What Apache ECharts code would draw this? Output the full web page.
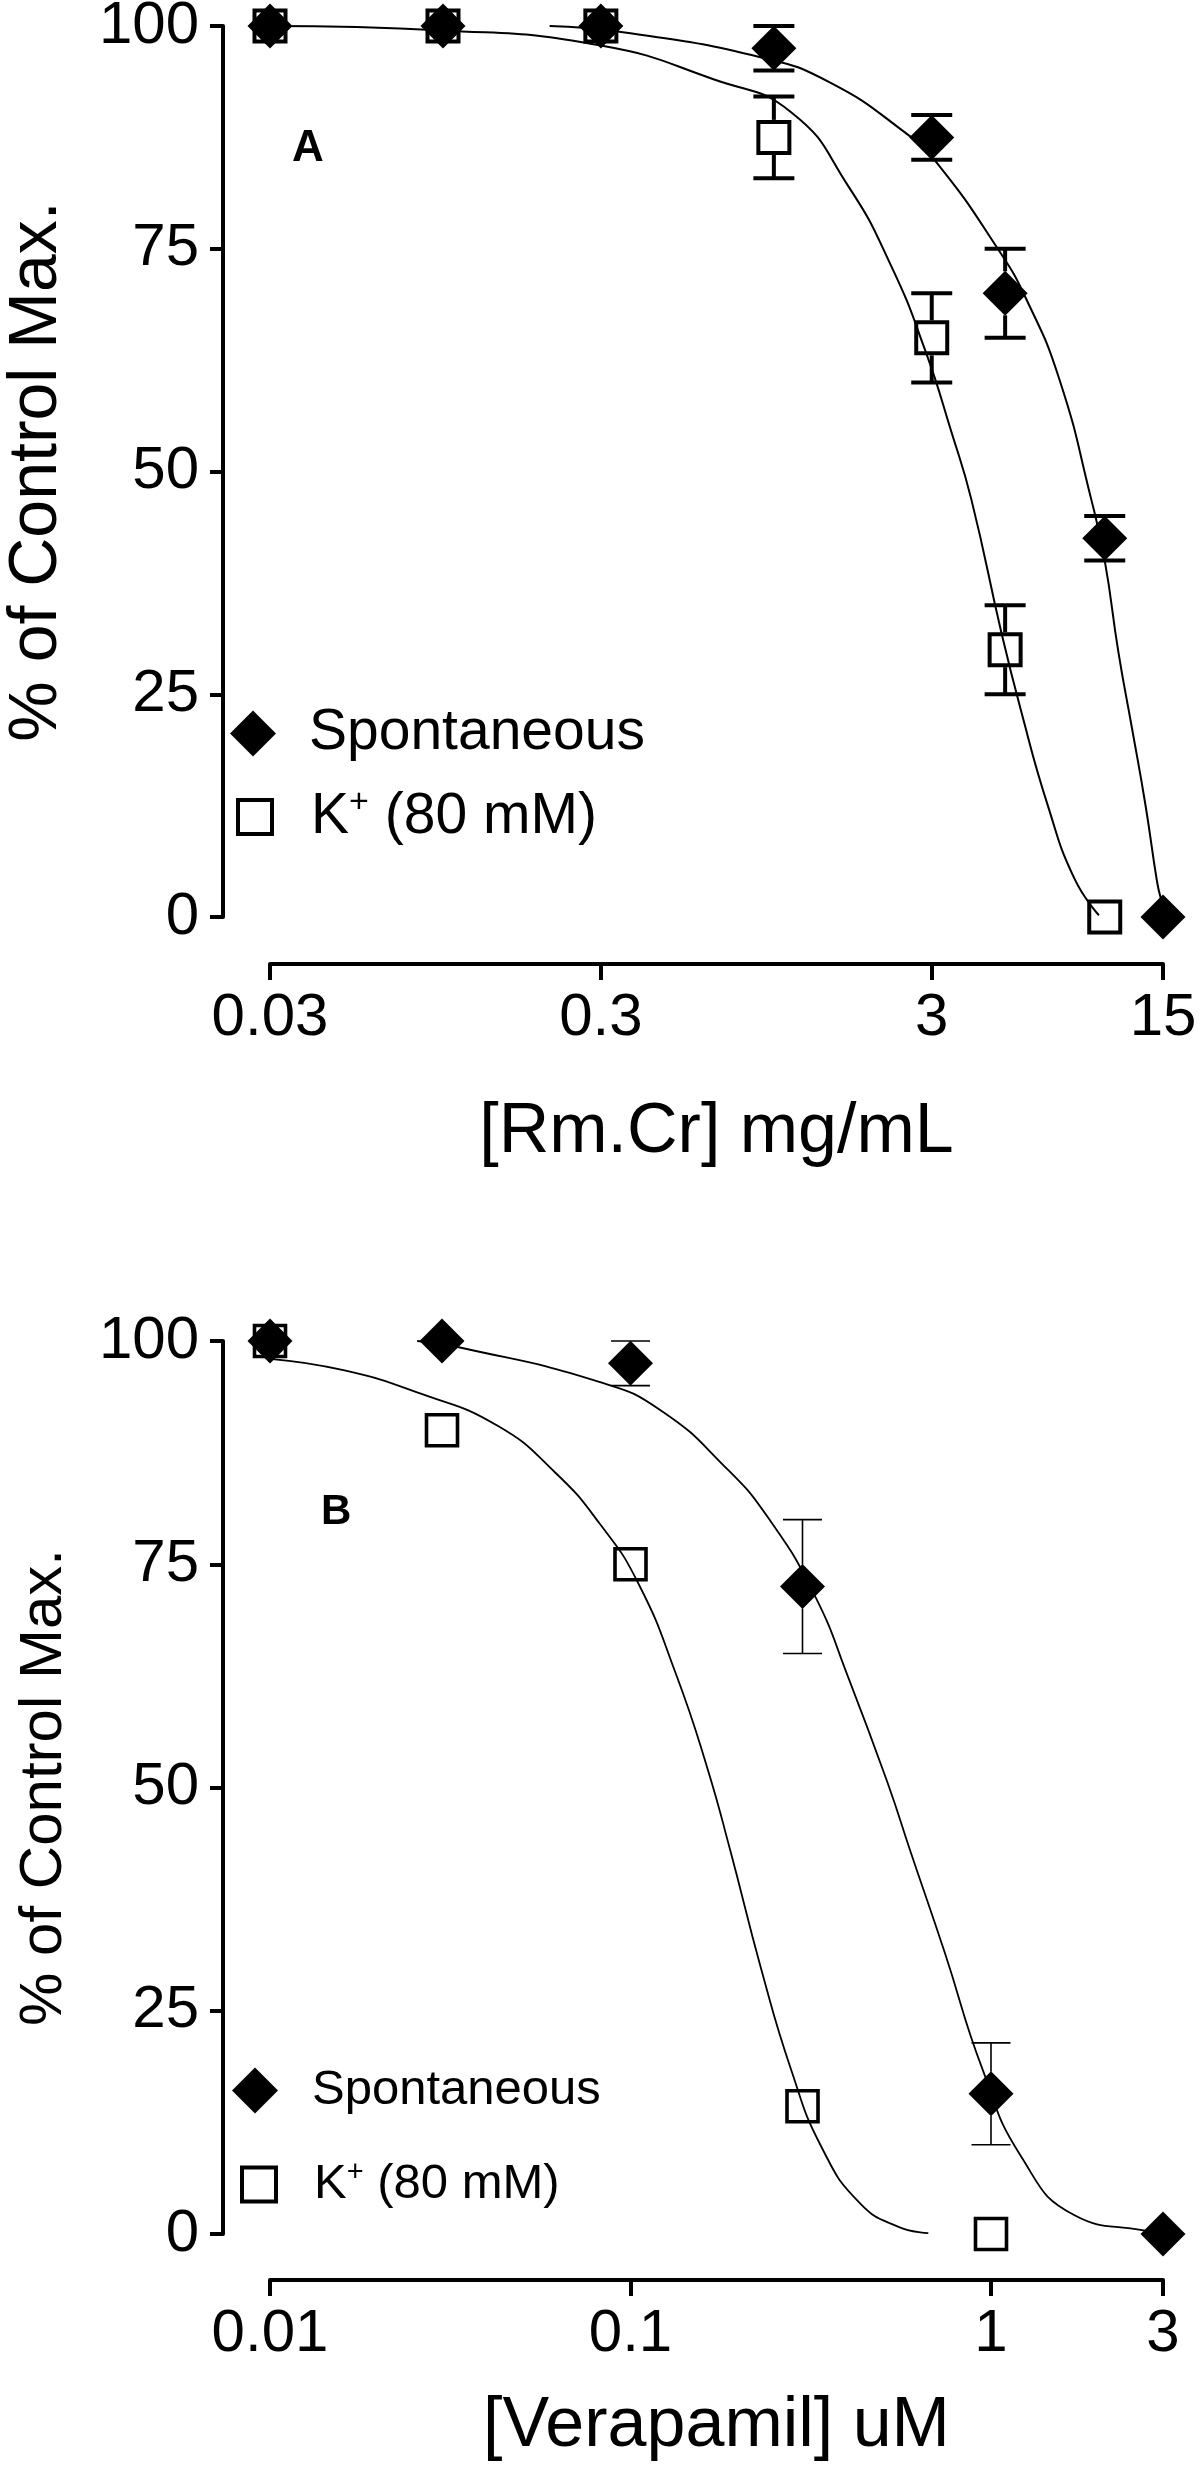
<!DOCTYPE html>
<html>
<head>
<meta charset="utf-8">
<title>% of Control Max.</title>
<script src="https://cdn.jsdelivr.net/npm/echarts@6.0.0/dist/echarts.min.js"></script>
<style>
    html, body { margin: 0; padding: 0; background: #fff; }
    #chart { width: 1200px; height: 2466px; }
</style>
</head>
<body>
<div id="chart"></div>
<script>
//panel A - Rm.Cr (mg/mL)
var concA = [0.03, 0.1, 0.3, 1, 3, 5, 10, 15];
var spontA = [100, 100, 100, 97.5, 87.5, 70, 42.5, 0];
var spontErrA = [0, 0, 0, 2.5, 2.5, 5, 2.5, 0];
var kConcA = [0.03, 0.1, 0.3, 1, 3, 5, 10];
var kA = [100, 100, 100, 87.5, 65, 30, 0];
var kErrA = [0, 0, 0, 4.6, 5, 5, 0];
//fitted curves
var spontFitXA = [0.21, 0.35, 0.91, 1.47, 2.5, 3.1, 4.75, 5.8, 7.3, 9.1, 10, 11, 12.1, 13.3, 14.4, 14.8];
var spontFitYA = [100, 99.3, 96.5, 93.7, 88, 84.7, 75, 69.3, 60.3, 46.9, 40, 29.7, 21.1, 12.4, 3.9, 2];
var kFitXA = [0.03, 0.1, 0.3, 0.66, 1.13, 1.68, 2.26, 2.86, 3.45, 3.95, 4.88, 5.58, 6.73, 8.1, 9.6];
var kFitYA = [100, 99.5, 97.8, 94, 90.3, 82, 73.1, 63.7, 54.3, 46.9, 31.8, 23.2, 12.5, 4.3, 0.2];
var xTicksA = [0.03, 0.3, 3, 15];
var xTickLabelsA = ['0.03', '0.3', '3', '15'];

//panel B - Verapamil (uM)
var concB = [0.01, 0.03, 0.1, 0.3, 1, 3];
var spontB = [100, 100, 97.5, 72.5, 15.7, 0];
var spontErrB = [0, 0, 2.5, 7.5, 5.7, 0];
var kConcB = [0.01, 0.03, 0.1, 0.3, 1];
var kB = [100, 90, 75, 14.3, 0];
var kErrB = [0, 0, 0, 0, 0];
var spontFitXB = [0.0256, 0.0334, 0.0823, 0.1217, 0.184, 0.241, 0.3235, 0.403, 0.52, 0.596, 0.743, 0.948, 1.211, 1.705, 2.65, 3];
var spontFitYB = [100, 99.3, 95.4, 92.2, 85.8, 80.2, 71.6, 62.2, 50.2, 43, 31.6, 18.4, 8.7, 2.1, 0.4, 0.2];
var kFitXB = [0.01, 0.0161, 0.0262, 0.0428, 0.0617, 0.0823, 0.105, 0.134, 0.163, 0.189, 0.23, 0.279, 0.34, 0.434, 0.554, 0.67];
var kFitYB = [98, 96.7, 94.1, 90.5, 85.3, 79.5, 72.9, 62.6, 52.3, 43, 29.8, 18.4, 9.6, 3.4, 0.8, 0.1];
var xTicksB = [0.01, 0.1, 1, 3];
var xTickLabelsB = ['0.01', '0.1', '1', '3'];

var yTicks = [0, 25, 50, 75, 100];
var spontName = 'Spontaneous';
var kName = 'K+ (80 mM)';

var FONT = 'Liberation Sans, Arial, Helvetica, sans-serif';

function zip(xs, ys, es) {
    var out = [];
    for (var i = 0; i < xs.length; i++) {
        out.push(es ? [xs[i], ys[i], es[i]] : [xs[i], ys[i]]);
    }
    return out;
}

function withError(xs, ys, es) {
    return zip(xs, ys, es).filter(function(d) { return d[2] > 0; });
}

//error bars stop at the symbol edge, like the original
function errorBars(half, capWidth, lineWidth) {
    return function(params, api) {
        var x = api.value(0), y = api.value(1), e = api.value(2);
        var c = api.coord([x, y]);
        var hi = api.coord([x, y + e]);
        var lo = api.coord([x, y - e]);
        var style = { stroke: '#000', lineWidth: lineWidth };
        var kids = [];
        if (hi[1] < c[1] - half) {
            kids.push({ type: 'line', shape: { x1: c[0], y1: hi[1], x2: c[0], y2: c[1] - half }, style: style });
        }
        if (lo[1] > c[1] + half) {
            kids.push({ type: 'line', shape: { x1: c[0], y1: c[1] + half, x2: c[0], y2: lo[1] }, style: style });
        }
        kids.push({ type: 'line', shape: { x1: c[0] - capWidth / 2, y1: hi[1], x2: c[0] + capWidth / 2, y2: hi[1] }, style: style });
        kids.push({ type: 'line', shape: { x1: c[0] - capWidth / 2, y1: lo[1], x2: c[0] + capWidth / 2, y2: lo[1] }, style: style });
        return { type: 'group', children: kids };
    };
}

function tickLabel(ticks, labels) {
    return function(v) {
        for (var i = 0; i < ticks.length; i++) {
            if (Math.abs(ticks[i] - v) / ticks[i] < 1e-6) return labels[i];
        }
        return '';
    };
}

function xAxis(idx, ticks, labels, name, offset, nameGap) {
    return {
        gridIndex: idx,
        type: 'log',
        logBase: 10,
        min: ticks[0],
        max: ticks[ticks.length - 1],
        offset: offset,
        axisLine: { show: true, onZero: false, lineStyle: { color: '#000', width: 4 } },
        axisTick: { show: true, length: 16, customValues: ticks, lineStyle: { color: '#000', width: 4 } },
        axisLabel: { customValues: ticks, formatter: tickLabel(ticks, labels), fontSize: 60, color: '#000', fontFamily: FONT, margin: 24 },
        minorTick: { show: false },
        splitLine: { show: false },
        name: name,
        nameLocation: 'middle',
        nameGap: nameGap,
        nameMoveOverlap: false,
        nameTextStyle: { fontSize: 70, color: '#000', fontFamily: FONT }
    };
}

function yAxis(idx, nameSize, nameGap) {
    return {
        gridIndex: idx,
        type: 'value',
        min: yTicks[0],
        max: yTicks[yTicks.length - 1],
        interval: yTicks[1] - yTicks[0],
        offset: 47,
        axisLine: { show: true, onZero: false, lineStyle: { color: '#000', width: 4 } },
        axisTick: { show: true, length: 13, lineStyle: { color: '#000', width: 4 } },
        axisLabel: { fontSize: 60, color: '#000', fontFamily: FONT, margin: 24 },
        splitLine: { show: false },
        name: '% of Control Max.',
        nameLocation: 'middle',
        nameGap: nameGap,
        nameMoveOverlap: false,
        nameTextStyle: { fontSize: nameSize, color: '#000', fontFamily: FONT }
    };
}

function curve(idx, name, xs, ys, width) {
    return {
        type: 'line', name: name, xAxisIndex: idx, yAxisIndex: idx,
        data: zip(xs, ys), smooth: 0.5,
        showSymbol: false, clip: false, silent: true, z: 2,
        lineStyle: { color: '#000', width: width, opacity: 1 }
    };
}

function bars(idx, data, half, cap, lw) {
    return {
        type: 'custom', xAxisIndex: idx, yAxisIndex: idx,
        data: data, encode: { x: 0, y: 1 },
        renderItem: errorBars(half, cap, lw), silent: true, z: 3
    };
}

function points(idx, name, xs, ys, square, border) {
    return {
        type: 'scatter', name: name, xAxisIndex: idx, yAxisIndex: idx,
        data: zip(xs, ys), clip: false, silent: true, z: square ? 4 : 5,
        symbol: square ? 'rect' : 'diamond',
        symbolSize: square ? 31 : 45,
        itemStyle: square
            ? { color: 'rgba(255,255,255,0)', borderColor: '#000', borderWidth: border, opacity: 1 }
            : { color: '#000', borderWidth: 0, opacity: 1 }
    };
}

//one legend per entry so each icon can have its own size
function legendItem(name, left, top, size, lineHeight, fontSize, pad, raise) {
    var square = name === kName;
    return {
        orient: 'vertical', left: left, top: top, padding: 0,
        itemWidth: size, itemHeight: size, selectedMode: false,
        data: [{
            name: name,
            icon: square ? 'rect' : 'diamond',
            itemStyle: square
                ? { color: 'rgba(255,255,255,0)', borderColor: '#000', borderWidth: 4, opacity: 1 }
                : { color: '#000', borderWidth: 0, opacity: 1 }
        }],
        formatter: function(n) {
            return n === kName ? 'K{sup|+} (80 mM)' : n;
        },
        textStyle: {
            fontSize: fontSize, color: '#000', fontFamily: FONT, lineHeight: lineHeight,
            padding: [0, 0, 0, pad],
            rich: {
                //superscript plus: bottom padding lifts it to the cap line
                sup: { fontSize: Math.round(fontSize * 0.6), color: '#000', fontFamily: FONT, lineHeight: 20, padding: [0, 0, raise || 0, 0] }
            }
        }
    };
}

var chart = echarts.init(document.getElementById('chart'), null, { renderer: 'canvas' });

chart.setOption({
    backgroundColor: '#fff',
    animation: false,
    title: [
        { text: 'A', left: 292, top: 127, padding: 0, textStyle: { fontSize: 44, fontWeight: 'bold', color: '#000', fontFamily: FONT } },
        { text: 'B', left: 321, top: 1491, padding: 0, textStyle: { fontSize: 42, fontWeight: 'bold', color: '#000', fontFamily: FONT } }
    ],
    legend: [
        legendItem(spontName, 230, 705, 46, 46, 57, 28),
        legendItem(kName, 236, 786, 34, 39, 57, 34, 28),
        legendItem(spontName, 232, 2066, 46, 46, 49, 29),
        legendItem(kName, 240, 2158, 34, 38, 49, 33, 24)
    ],
    grid: [
        { left: 270, right: 37, top: 26, height: 891, outerBoundsMode: 'none' },
        { left: 270, right: 37, top: 1341, height: 893, outerBoundsMode: 'none' }
    ],
    xAxis: [
        xAxis(0, xTicksA, xTickLabelsA, '[Rm.Cr] mg/mL', 47, 134),
        xAxis(1, xTicksB, xTickLabelsB, '[Verapamil] uM', 46, 112)
    ],
    yAxis: [
        yAxis(0, 68, 152),
        yAxis(1, 60, 149)
    ],
    series: [
        curve(0, 'fitA1', spontFitXA, spontFitYA, 2),
        curve(0, 'fitA2', kFitXA, kFitYA, 2),
        bars(0, withError(concA, spontA, spontErrA), 22, 41, 4),
        bars(0, withError(kConcA, kA, kErrA), 17.5, 41, 4),
        points(0, kName, kConcA, kA, true, 4),
        points(0, spontName, concA, spontA, false),

        curve(1, 'fitB1', spontFitXB, spontFitYB, 1.8),
        curve(1, 'fitB2', kFitXB, kFitYB, 1.8),
        bars(1, withError(concB, spontB, spontErrB), 22, 39, 1.6),
        bars(1, withError(kConcB, kB, kErrB), 17.5, 39, 1.6),
        points(1, kName, kConcB, kB, true, 3.6),
        points(1, spontName, concB, spontB, false)
    ]
});
</script>
</body>
</html>
